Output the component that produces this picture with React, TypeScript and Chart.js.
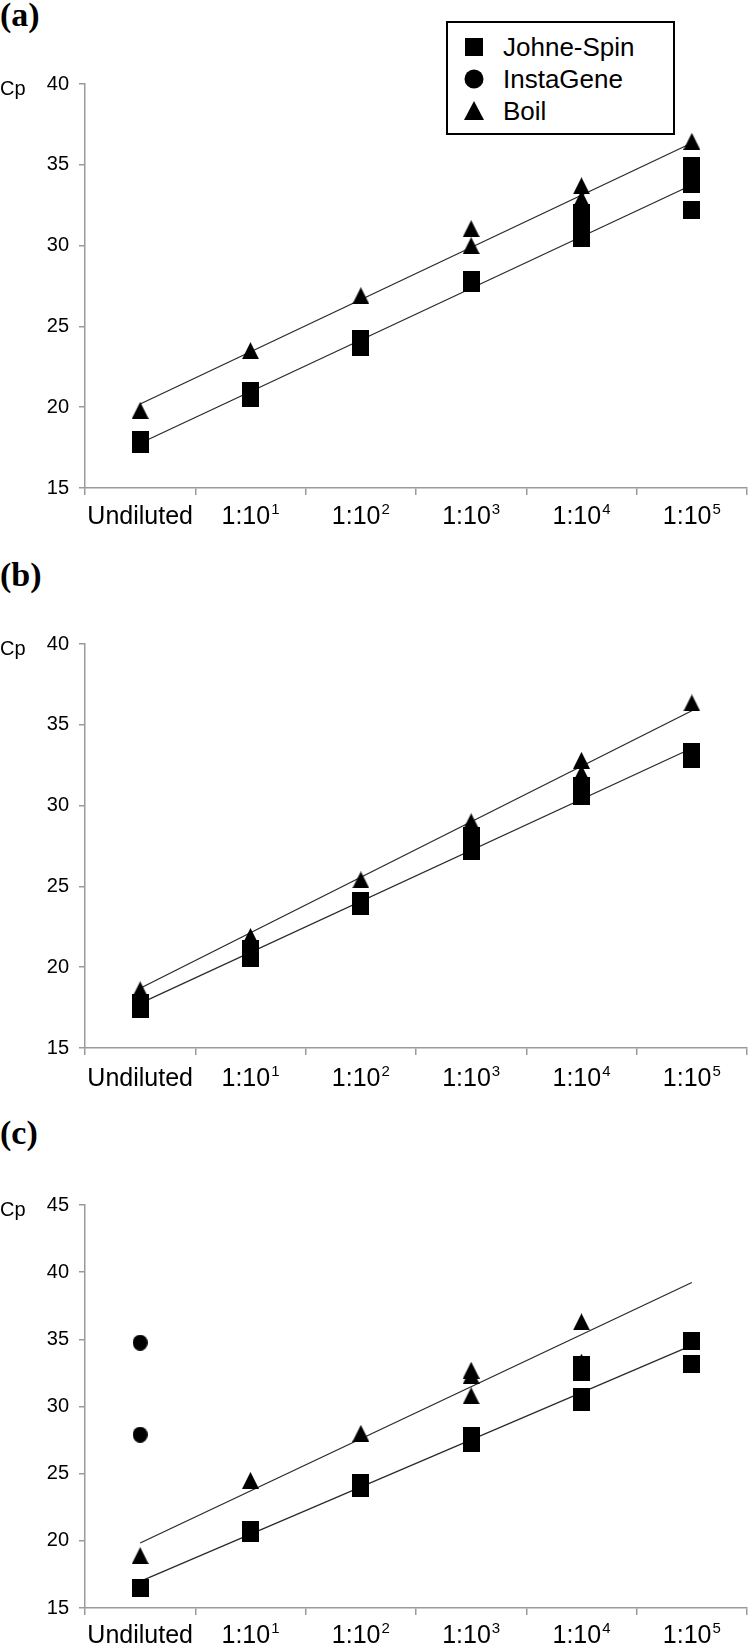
import React, { useEffect, useRef } from "react";
import { Chart, registerables } from "chart.js";

Chart.register(...registerables);

const FONT = '"Liberation Sans", Arial, sans-serif';

// ---------- shared axis data ----------
const categories = ["Undiluted", "1:10^1", "1:10^2", "1:10^3", "1:10^4", "1:10^5"];
const yRangeAB = [15, 40];
const yRangeC = [15, 45];
const yStep = 5;
const seriesNames = ["Johne-Spin", "InstaGene", "Boil"];

// ---------- panel (a) : Cp values per category ----------
const aJohneSpin = [[17.7, 18.0], [20.6, 21.0], [23.7, 24.2], [27.7, 27.9], [30.5, 31.0, 31.5, 32.0], [32.2, 33.8, 34.3, 34.9]];
const aInstaGene: number[][] = [[], [], [], [], [], []];
const aBoil = [[19.8], [23.5], [26.9], [30.0, 31.05], [32.3, 32.9, 33.7], [36.45]];
const aTrendJohneSpin = [17.77, 33.75]; // fitted line at first / last category
const aTrendBoil = [20.2, 36.35];

// ---------- panel (b) ----------
const bJohneSpin = [[17.4, 17.8], [20.6, 21.1], [23.8, 24.1], [27.2, 27.6, 28.1], [30.6, 31.2], [32.9, 33.3]];
const bInstaGene: number[][] = [[], [], [], [], [], []];
const bBoil = [[18.6], [21.5, 21.9], [25.4], [28.5, 29.0], [32.0, 32.8], [36.35]];
const bTrendJohneSpin = [17.76, 33.55];
const bTrendBoil = [18.7, 35.87];

// ---------- panel (c) ----------
const cJohneSpin = [[16.5], [20.6, 20.8], [23.9, 24.3], [27.3, 27.8], [30.3, 30.7, 32.6, 33.1], [33.2, 34.9]];
const cInstaGene = [[27.9, 34.75], [], [], [], [], []];
const cBoil = [[18.9], [24.5], [28.0], [30.8, 32.3, 32.7], [33.3, 36.3], []];
const cTrendJohneSpin = [16.98, 34.55];
const cTrendBoil = [19.84, 39.23];

// ---------- helpers ----------
function makeMarker(kind: string, w: number, h: number) {
  const c = document.createElement("canvas");
  c.width = w;
  c.height = h;
  const g = c.getContext("2d")!;
  g.fillStyle = "#000";
  g.beginPath();
  if (kind === "triangle") {
    g.moveTo(w / 2, 0);
    g.lineTo(w, h);
    g.lineTo(0, h);
    g.closePath();
  } else if (kind === "square") {
    g.rect(0, 0, w, h);
  } else {
    g.ellipse(w / 2, h / 2, w / 2, h / 2, 0, 0, Math.PI * 2);
  }
  g.fill();
  return c;
}

function toPoints(groups: number[][]) {
  const pts: { x: string; y: number }[] = [];
  groups.forEach((vals, i) => vals.forEach((v) => pts.push({ x: categories[i], y: v })));
  return pts;
}

function trendPoints(t: number[]) {
  return [
    { x: categories[0], y: t[0] },
    { x: categories[categories.length - 1], y: t[1] },
  ];
}

const supLabelPlugin = {
  id: "supLabels",
  afterDraw(chart: any, _args: any, opts: any) {
    const xs = chart.scales.x;
    const ctx = chart.ctx;
    const labels: string[] = xs.getLabels();
    ctx.save();
    ctx.fillStyle = "#000";
    ctx.textBaseline = "alphabetic";
    ctx.textAlign = "left";
    labels.forEach((lab, i) => {
      const px = xs.getPixelForValue(i);
      const [base, exp] = lab.split("^");
      ctx.font = `${opts.size}px ${FONT}`;
      const bw = ctx.measureText(base).width;
      let ew = 0;
      if (exp) {
        ctx.font = `${opts.supSize}px ${FONT}`;
        ew = ctx.measureText(exp).width + 1;
      }
      const left = px - (bw + ew) / 2;
      const y = xs.top + opts.baseline;
      ctx.font = `${opts.size}px ${FONT}`;
      ctx.fillText(base, left, y);
      if (exp) {
        ctx.font = `${opts.supSize}px ${FONT}`;
        ctx.fillText(exp, left + bw + 1, y - opts.supRise);
      }
    });
    ctx.restore();
  },
};

type PanelProps = {
  top: number;
  plotTop: number;
  plotBottom: number;
  xAxisH: number;
  labelBaseline: number;
  yRange: number[];
  johne: number[][];
  insta: number[][];
  boil: number[][];
  trendJ: number[];
  trendB: number[];
};

function Panel(p: PanelProps) {
  const ref = useRef<HTMLCanvasElement>(null);
  const height = p.plotBottom - p.top + p.xAxisH;
  useEffect(() => {
    const sq = makeMarker("square", 17, 18);
    const ci = makeMarker("circle", 15, 16);
    const tr = makeMarker("triangle", 17, 17);
    const axisGray = "#9a9a9a";
    const chart = new Chart(ref.current!, {
      type: "line",
      data: {
        labels: categories,
        datasets: [
          { label: seriesNames[0], data: toPoints(p.johne), showLine: false, pointStyle: sq, pointRadius: 8, pointBackgroundColor: "#000" },
          { label: seriesNames[1], data: toPoints(p.insta), showLine: false, pointStyle: ci, pointRadius: 8, pointBackgroundColor: "#000" },
          { label: seriesNames[2], data: toPoints(p.boil), showLine: false, pointStyle: tr, pointRadius: 8, pointBackgroundColor: "#000" },
          { label: "trend J", data: trendPoints(p.trendJ), borderColor: "#2a2a2a", borderWidth: 1.3, pointRadius: 0, fill: false },
          { label: "trend B", data: trendPoints(p.trendB), borderColor: "#2a2a2a", borderWidth: 1.3, pointRadius: 0, fill: false },
        ] as any,
      },
      options: {
        animation: false,
        responsive: false,
        layout: { padding: { top: p.plotTop - p.top, left: 0, right: 1, bottom: 0 } },
        plugins: {
          legend: { display: false },
          tooltip: { enabled: false },
          supLabels: { size: 25, supSize: 15, supRise: 10, baseline: p.labelBaseline },
        } as any,
        scales: {
          x: {
            type: "category",
            offset: true,
            grid: { display: true, offset: true, drawOnChartArea: false, drawTicks: true, tickLength: 7, color: axisGray, lineWidth: 1.5 },
            border: { display: true, color: axisGray, width: 1.5 },
            ticks: { display: false },
            afterFit: (s: any) => {
              s.height = p.xAxisH;
            },
          },
          y: {
            type: "linear",
            min: p.yRange[0],
            max: p.yRange[1],
            ticks: { stepSize: yStep, color: "#000", font: { size: 20, family: FONT }, padding: 10 },
            grid: { display: true, drawOnChartArea: false, drawTicks: true, tickLength: 6, color: axisGray, lineWidth: 1.5 },
            border: { display: true, color: axisGray, width: 1.5 },
            afterFit: (s: any) => {
              s.width = 85;
            },
          },
        },
      } as any,
      plugins: [supLabelPlugin as any],
    });
    return () => chart.destroy();
  }, []);
  return (
    <canvas
      ref={ref}
      width={756}
      height={height}
      style={{ position: "absolute", left: 0, top: p.top, width: 756, height, display: "block" }}
    />
  );
}

const labelStyle: React.CSSProperties = {
  position: "absolute",
  left: 0,
  fontFamily: '"Liberation Serif", "Times New Roman", serif',
  fontWeight: "bold",
  fontSize: 34,
  lineHeight: "34px",
};

const cpStyle: React.CSSProperties = {
  position: "absolute",
  left: 0,
  fontFamily: FONT,
  fontSize: 20,
  lineHeight: "20px",
};

function Marker({ kind }: { kind: string }) {
  return (
    <svg width={20} height={20} style={{ display: "block" }}>
      {kind === "square" && <rect x={1} y={1} width={18} height={18} fill="#000" />}
      {kind === "circle" && <ellipse cx={10} cy={10} rx={9.5} ry={9.5} fill="#000" />}
      {kind === "triangle" && <polygon points="10,0 20,19 0,19" fill="#000" />}
    </svg>
  );
}

function Legend() {
  const kinds = ["square", "circle", "triangle"];
  return (
    <div
      style={{
        position: "absolute",
        left: 446,
        top: 21,
        width: 229,
        height: 114,
        boxSizing: "border-box",
        border: "2px solid #000",
        background: "#fff",
        fontFamily: FONT,
        fontSize: 26,
      }}
    >
      {seriesNames.map((n, i) => (
        <div key={n} style={{ position: "absolute", left: 16, top: 9 + i * 32, height: 30, display: "flex", alignItems: "center" }}>
          <Marker kind={kinds[i]} />
          <span style={{ marginLeft: 19, lineHeight: "30px" }}>{n}</span>
        </div>
      ))}
    </div>
  );
}

export default function App() {
  return (
    <div style={{ position: "absolute", left: 0, top: 0, width: 756, height: 1645, background: "#fff", overflow: "hidden" }}>
      <Panel top={60} plotTop={84} plotBottom={488} xAxisH={50} labelBaseline={36} yRange={yRangeAB} johne={aJohneSpin} insta={aInstaGene} boil={aBoil} trendJ={aTrendJohneSpin} trendB={aTrendBoil} />
      <Panel top={620} plotTop={644} plotBottom={1048} xAxisH={50} labelBaseline={38} yRange={yRangeAB} johne={bJohneSpin} insta={bInstaGene} boil={bBoil} trendJ={bTrendJohneSpin} trendB={bTrendBoil} />
      <Panel top={1180} plotTop={1205} plotBottom={1608} xAxisH={37} labelBaseline={35} yRange={yRangeC} johne={cJohneSpin} insta={cInstaGene} boil={cBoil} trendJ={cTrendJohneSpin} trendB={cTrendBoil} />
      <div style={{ ...labelStyle, top: -2 }}>(a)</div>
      <div style={{ ...labelStyle, top: 558 }}>(b)</div>
      <div style={{ ...labelStyle, top: 1116 }}>(c)</div>
      <div style={{ ...cpStyle, top: 78 }}>Cp</div>
      <div style={{ ...cpStyle, top: 638 }}>Cp</div>
      <div style={{ ...cpStyle, top: 1199 }}>Cp</div>
      <Legend />
    </div>
  );
}
